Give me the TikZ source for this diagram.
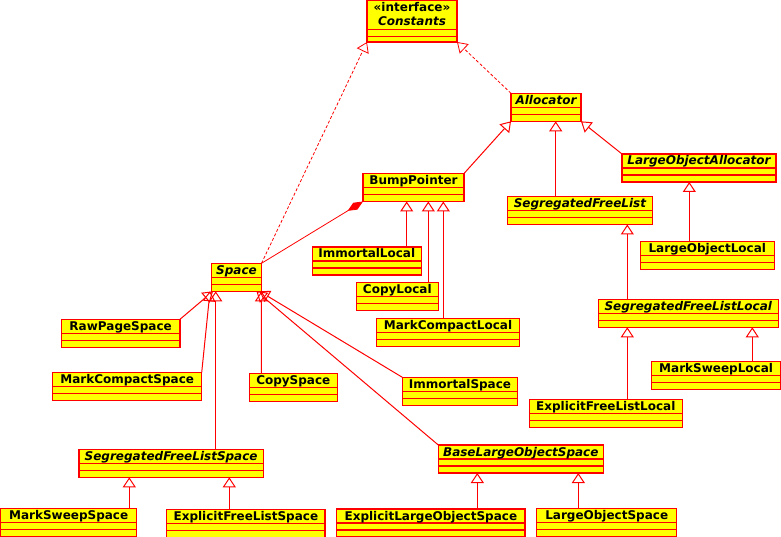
\documentclass[tikz,border=0pt]{standalone}
\usepackage{fontspec}
\setmainfont{DejaVu Sans}[BoldFont={DejaVu Sans Bold},ItalicFont={DejaVu Sans Oblique},BoldItalicFont={DejaVu Sans Bold Oblique}]
\usetikzlibrary{arrows.meta}
\definecolor{umlred}{RGB}{255,0,0}
\definecolor{umlyellow}{RGB}{255,255,0}
\tikzset{
 clsbox/.style={draw=umlred, fill=umlyellow, line width=1.2pt, inner sep=0pt, outer sep=0pt, rectangle},
 clsline/.style={draw=umlred, line width=1.2pt},
 clstext/.style={font=\fontsize{12}{14}\selectfont\bfseries, inner sep=0pt, text=black},
 gen/.style={draw=umlred, line width=1pt, -{Triangle[open, length=10pt, width=13pt, line width=1pt]}},
 real/.style={draw=umlred, line width=0.8pt, dash pattern=on 3pt off 2pt, -{Triangle[open, length=10pt, width=13pt, line width=0.8pt]}},
 comp/.style={draw=umlred, line width=0.8pt, -{Diamond[length=18pt, width=8pt, fill=umlred, line width=0.8pt]}},
}
% name, x1, y1, x2, y2, line1, line2, text
\newcommand\umlcls[8]{%
 \node[clsbox, anchor=north west, minimum width={(#4)-(#2)}, minimum height={(#5)-(#3)}] (#1) at (#2,#3) {};
 \draw[clsline] ([yshift=-#6pt]#1.north west) -- ([yshift=-#6pt]#1.north east);
 \draw[clsline] ([yshift=-#7pt]#1.north west) -- ([yshift=-#7pt]#1.north east);
 \node[clstext, anchor=base] (#1-t) at ([yshift=-11pt]#1.north) {#8};
}
\begin{document}
\begin{tikzpicture}[x=1pt, y=-1pt]
\useasboundingbox (0,0) rectangle (781,537);
% classes
\umlcls{Constants}{367}{0.7}{457}{42}{29}{35.5}{«interface»}
\node[clstext, anchor=base] (Constants-n) at ([yshift=-24.5pt]Constants.north) {\itshape Constants};
\umlcls{Allocator}{511}{93.3}{581}{121.3}{14}{21}{\itshape Allocator}
\umlcls{LargeObjectAllocator}{622}{154}{776}{182}{14}{21}{\itshape LargeObjectAllocator}
\umlcls{BumpPointer}{363}{173.5}{464}{201.5}{14}{21}{BumpPointer}
\umlcls{SegregatedFreeList}{507.5}{196.5}{652.3}{224.5}{14}{21}{\itshape SegregatedFreeList}
\umlcls{ImmortalLocal}{312.3}{247}{421.3}{275}{14}{21}{ImmortalLocal}
\umlcls{CopyLocal}{356.3}{282.3}{438.3}{310.3}{14}{21}{CopyLocal}
\umlcls{MarkCompactLocal}{376.3}{318.3}{519.7}{346.3}{14}{21}{MarkCompactLocal}
\umlcls{LargeObjectLocal}{640.3}{241.7}{774.3}{269.7}{14}{21}{LargeObjectLocal}
\umlcls{SegregatedFreeListLocal}{598.3}{299.3}{778.3}{327.3}{14}{21}{\itshape SegregatedFreeListLocal}
\umlcls{MarkSweepLocal}{651.7}{361.7}{780.5}{389.7}{14}{21}{MarkSweepLocal}
\umlcls{ExplicitFreeListLocal}{529.3}{399.3}{682.3}{427.3}{14}{21}{ExplicitFreeListLocal}
\umlcls{Space}{211.5}{263.3}{261.5}{291.3}{14}{21}{\itshape Space}
\umlcls{RawPageSpace}{61.3}{319.3}{180}{347.3}{14}{21}{RawPageSpace}
\umlcls{MarkCompactSpace}{52.7}{372.5}{201.7}{400.5}{14}{21}{MarkCompactSpace}
\umlcls{CopySpace}{249.3}{373.3}{337.3}{401.3}{14}{21}{CopySpace}
\umlcls{ImmortalSpace}{402.3}{377.3}{517.7}{405.3}{14}{21}{ImmortalSpace}
\umlcls{BaseLargeObjectSpace}{438.3}{445}{603.3}{473}{14}{21}{\itshape BaseLargeObjectSpace}
\umlcls{SegregatedFreeListSpace}{79}{449.3}{263.3}{477.3}{14}{21}{\itshape SegregatedFreeListSpace}
\umlcls{MarkSweepSpace}{0.6}{508.3}{136.7}{536.3}{14}{21}{MarkSweepSpace}
\umlcls{ExplicitFreeListSpace}{166.7}{509.3}{325}{537.3}{14}{21}{ExplicitFreeListSpace}
\umlcls{ExplicitLargeObjectSpace}{336.7}{509}{525}{537}{14}{21}{ExplicitLargeObjectSpace}
\umlcls{LargeObjectSpace}{536.7}{508.3}{676.7}{536.3}{14}{21}{LargeObjectSpace}
% realizations
\draw[real] (Space.north east) -- (Constants.south west);
\draw[real] (Allocator.north west) -- (Constants.south east);
% composition
\draw[comp] (Space.north east) -- (BumpPointer.south west);
% generalizations
\draw[gen] ([xshift=48.2pt]SegregatedFreeList.north west) -- ([xshift=44.7pt]Allocator.south west);
\draw[gen] (BumpPointer.north east) -- (Allocator.south west);
\draw[gen] (LargeObjectAllocator.north west) -- (Allocator.south east);
\draw[gen] ([xshift=49pt]LargeObjectLocal.north west) -- ([xshift=67.3pt]LargeObjectAllocator.south west);
\draw[gen] ([xshift=29pt]SegregatedFreeListLocal.north west) -- ([xshift=119.8pt]SegregatedFreeList.south west);
\draw[gen] ([xshift=98pt]ExplicitFreeListLocal.north west) -- ([xshift=29pt]SegregatedFreeListLocal.south west);
\draw[gen] ([xshift=100.6pt]MarkSweepLocal.north west) -- ([xshift=154pt]SegregatedFreeListLocal.south west);
\draw[gen] ([xshift=94.4pt]ImmortalLocal.north west) -- ([xshift=43.7pt]BumpPointer.south west);
\draw[gen] ([xshift=72pt]CopyLocal.north west) -- ([xshift=65.3pt]BumpPointer.south west);
\draw[gen] ([xshift=67pt]MarkCompactLocal.north west) -- ([xshift=80.3pt]BumpPointer.south west);
\draw[gen] ([xshift=128.7pt]MarkSweepSpace.north west) -- ([xshift=50.3pt]SegregatedFreeListSpace.south west);
\draw[gen] ([xshift=62.6pt]ExplicitFreeListSpace.north west) -- ([xshift=150.3pt]SegregatedFreeListSpace.south west);
\draw[gen] ([xshift=140.6pt]ExplicitLargeObjectSpace.north west) -- ([xshift=39pt]BaseLargeObjectSpace.south west);
\draw[gen] ([xshift=41.6pt]LargeObjectSpace.north west) -- ([xshift=140pt]BaseLargeObjectSpace.south west);
\draw[gen] (RawPageSpace.north east) -- ([xshift=1.5pt]Space.south west);
\draw[gen] (MarkCompactSpace.north east) -- ([xshift=-1.5pt]Space.south west);
\draw[gen] ([xshift=136.7pt]SegregatedFreeListSpace.north west) -- ([xshift=4.2pt]Space.south west);
\draw[gen] ([xshift=12pt]CopySpace.north west) -- (Space.south east);
\draw[gen] (ImmortalSpace.north west) -- ([xshift=-2pt]Space.south east);
\draw[gen] (BaseLargeObjectSpace.north west) -- ([xshift=-5pt]Space.south east);
\end{tikzpicture}
\end{document}
